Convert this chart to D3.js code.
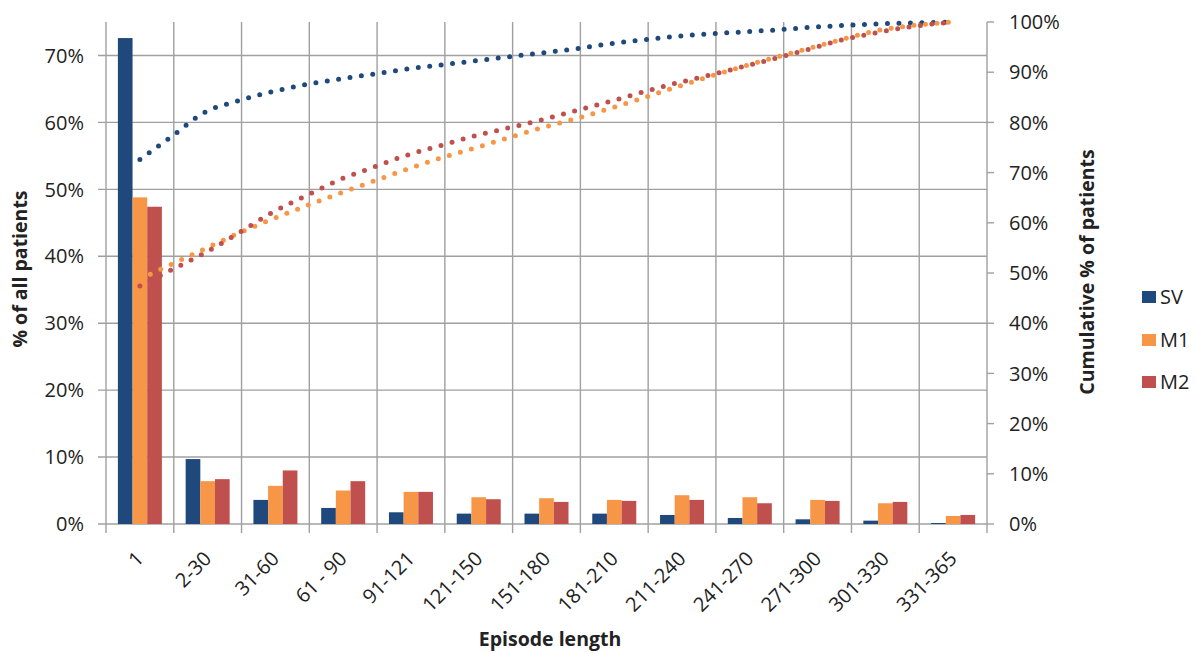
<!DOCTYPE html>
<html>
<head>
<meta charset="utf-8">
<script src="https://cdn.jsdelivr.net/npm/d3@7"></script>
<style>
  body { margin: 0; background: #fff; }
  text { font-family: "Open Sans", sans-serif; fill: #222; }
</style>
</head>
<body>
<svg id="chart" width="1196" height="653"></svg>
<script>
// Episode-length buckets (days)
const categories = ["1", "2-30", "31-60", "61 - 90", "91-121", "121-150", "151-180",
                    "181-210", "211-240", "241-270", "271-300", "301-330", "331-365"];
const seriesNames = ["SV", "M1", "M2"];

// Share of all patients per bucket (%)
const svPct = [72.6, 9.7, 3.6, 2.4, 1.75, 1.55, 1.55, 1.55, 1.35, 0.9, 0.7, 0.5, 0.15];
const m1Pct = [48.8, 6.4, 5.7, 5.0, 4.8, 4.0, 3.85, 3.6, 4.3, 4.0, 3.6, 3.1, 1.2];
const m2Pct = [47.4, 6.7, 8.0, 6.4, 4.8, 3.7, 3.3, 3.45, 3.6, 3.1, 3.45, 3.3, 1.35];

// Cumulative share of patients by episode length in days (%)
const days  = [1, 15, 30, 45, 60, 75, 90, 105, 120, 135, 150, 165, 180,
               195, 210, 225, 240, 255, 270, 285, 300, 315, 330, 345, 365];
const svCum = [72.6, 77.1, 82.0, 84.3, 86.1, 87.5, 88.6, 89.6, 90.6, 91.4, 92.2, 93.0, 93.8,
               94.6, 95.6, 96.4, 97.1, 97.6, 98.0, 98.4, 98.9, 99.3, 99.6, 99.8, 100];
const m1Cum = [48.8, 51.7, 54.8, 57.9, 60.7, 63.3, 65.8, 68.2, 70.6, 72.8, 74.8, 76.8, 78.8,
               80.6, 82.6, 84.7, 86.9, 89.0, 91.0, 92.9, 94.7, 96.5, 98.2, 99.2, 100];
const m2Cum = [47.4, 50.6, 54.0, 57.9, 62.0, 65.3, 68.5, 71.0, 73.4, 75.3, 77.2, 78.8, 80.4,
               82.2, 84.0, 85.9, 87.7, 89.3, 91.0, 92.7, 94.5, 96.4, 97.8, 99.0, 100];

const leftTicks  = [0, 10, 20, 30, 40, 50, 60, 70];
const rightTicks = [0, 10, 20, 30, 40, 50, 60, 70, 80, 90, 100];

const colors = ["#1F497D", "#F79646", "#C0504D"];
const gridColor = "#a0a0a0";

const plot = { left: 106, right: 987, top: 22, bottom: 524 };
const svg = d3.select("#chart");

const x0 = d3.scaleBand().domain(categories).range([plot.left, plot.right]).padding(0);
const x1 = d3.scaleBand().domain(seriesNames).range([0, x0.bandwidth()])
  .paddingInner(0).paddingOuter(0.81);
const yL = d3.scaleLinear().domain([0, 75]).range([plot.bottom, plot.top]);
const yR = d3.scaleLinear().domain([0, 100]).range([plot.bottom, plot.top]);
const xDay = d3.scaleLinear().domain([1, 365])
  .range([x0(categories[0]) + x0.bandwidth() / 2,
          x0(categories[categories.length - 1]) + x0.bandwidth() / 2]);

// Horizontal gridlines with left ticks
const gH = svg.append("g");
leftTicks.forEach(t => {
  gH.append("line")
    .attr("x1", plot.left - 8).attr("x2", plot.right)
    .attr("y1", yL(t)).attr("y2", yL(t))
    .attr("stroke", gridColor).attr("stroke-width", 1.4);
  gH.append("text")
    .attr("x", 84).attr("y", yL(t)).attr("dy", "0.36em")
    .attr("text-anchor", "end").style("font-size", "20px")
    .text(t + "%");
});

// Vertical gridlines at category boundaries (extend below as ticks)
const bounds = categories.map(c => x0(c)).concat([plot.right]);
bounds.forEach(bx => {
  svg.append("line")
    .attr("x1", bx).attr("x2", bx)
    .attr("y1", plot.top).attr("y2", plot.bottom + 9)
    .attr("stroke", gridColor).attr("stroke-width", 1.4);
});

// Right axis ticks and labels
rightTicks.forEach(t => {
  svg.append("line")
    .attr("x1", plot.right).attr("x2", plot.right + 7)
    .attr("y1", yR(t)).attr("y2", yR(t))
    .attr("stroke", gridColor).attr("stroke-width", 1.4);
  svg.append("text")
    .attr("x", 1009).attr("y", yR(t)).attr("dy", "0.36em")
    .style("font-size", "20px")
    .text(t + "%");
});

// Bars
const pctSeries = [svPct, m1Pct, m2Pct];
const gBars = svg.append("g");
categories.forEach((c, i) => {
  seriesNames.forEach((s, k) => {
    const v = pctSeries[k][i];
    gBars.append("rect")
      .attr("x", x0(c) + x1(s))
      .attr("y", yL(v))
      .attr("width", x1.bandwidth())
      .attr("height", yL(0) - yL(v))
      .attr("fill", colors[k]);
  });
});

// Cumulative curves as round-dotted lines
const cumSeries = [svCum, m1Cum, m2Cum];
const line = d3.line()
  .x(d => xDay(d[0]))
  .y(d => yR(d[1]))
  .curve(d3.curveMonotoneX);
cumSeries.forEach((vals, k) => {
  svg.append("path")
    .datum(days.map((d, i) => [d, vals[i]]))
    .attr("d", line)
    .attr("fill", "none")
    .attr("stroke", colors[k])
    .attr("stroke-width", 5)
    .attr("stroke-linecap", "round")
    .attr("stroke-dasharray", "0 11.5");
});

// Category labels
categories.forEach(c => {
  const cx = x0(c) + x0.bandwidth() / 2 + 5;
  const cy = 560;
  svg.append("text")
    .attr("transform", `translate(${cx},${cy}) rotate(-45)`)
    .attr("text-anchor", "end")
    .style("font-size", "20px")
    .text(c);
});

// Axis titles
svg.append("text")
  .attr("x", 550).attr("y", 646)
  .attr("text-anchor", "middle")
  .style("font-size", "19.5px").style("font-weight", "bold")
  .text("Episode length");

svg.append("text")
  .attr("transform", `translate(27,269) rotate(-90)`)
  .attr("text-anchor", "middle")
  .style("font-size", "19.5px").style("font-weight", "bold")
  .text("% of all patients");

svg.append("text")
  .attr("transform", `translate(1094,272) rotate(-90)`)
  .attr("text-anchor", "middle")
  .style("font-size", "19.5px").style("font-weight", "bold")
  .text("Cumulative % of patients");

// Legend
const legendY = [297, 340, 382];
seriesNames.forEach((s, k) => {
  svg.append("rect")
    .attr("x", 1142).attr("y", legendY[k] - 6)
    .attr("width", 14).attr("height", 12)
    .attr("fill", colors[k]);
  svg.append("text")
    .attr("x", 1160).attr("y", legendY[k]).attr("dy", "0.36em")
    .style("font-size", "20px")
    .text(s);
});
</script>
</body>
</html>
